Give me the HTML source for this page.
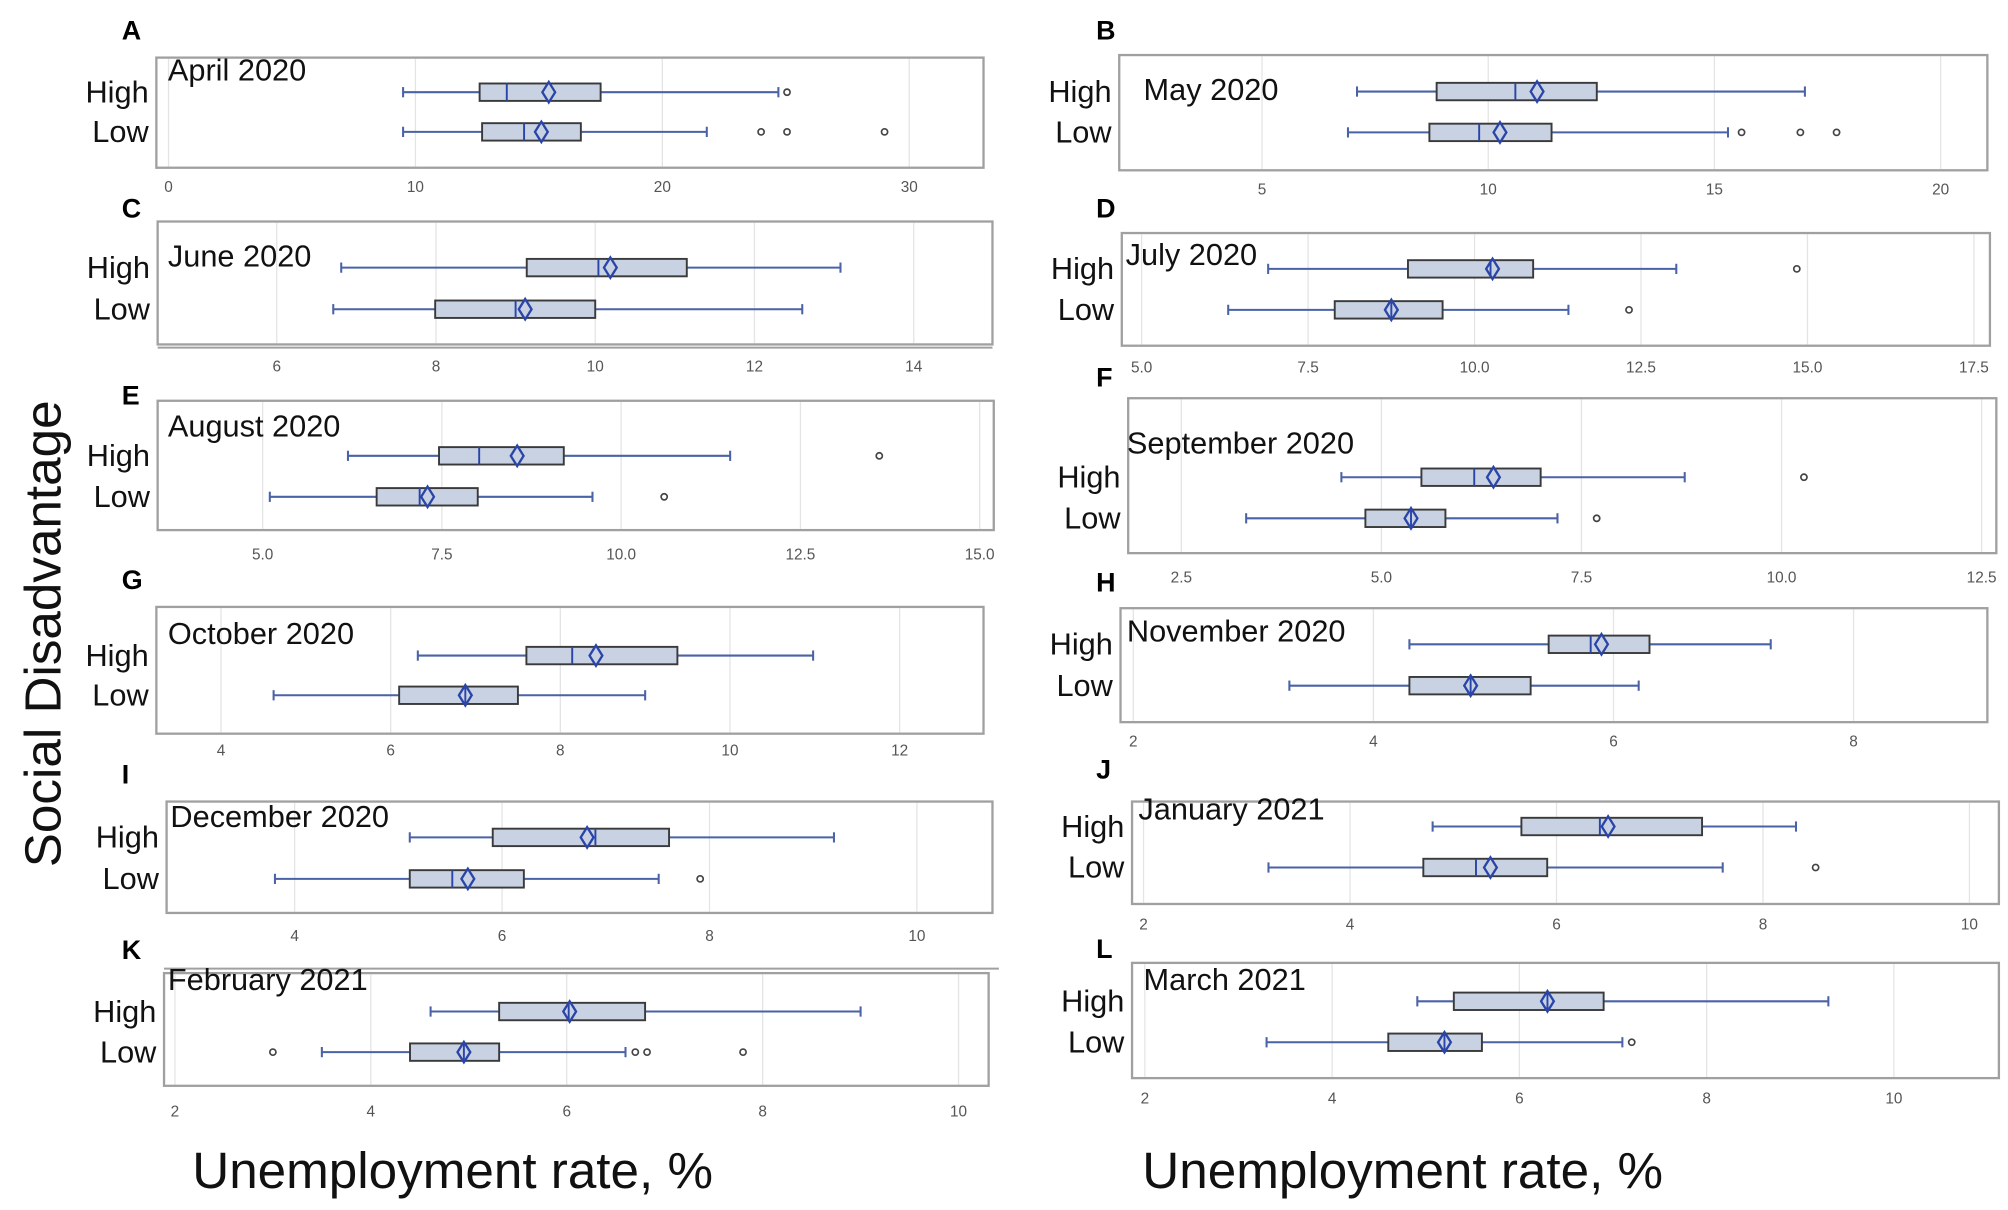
<!DOCTYPE html>
<html><head><meta charset="utf-8"><style>
html,body{margin:0;padding:0;background:#fff;}
svg{display:block;}
text{font-family:"Liberation Sans",sans-serif;}
</style></head><body>
<svg id="fig" width="2008" height="1210" viewBox="0 0 1568 945" xmlns="http://www.w3.org/2000/svg">
<text x="0" y="0" font-size="40" text-anchor="middle" transform="translate(47,495) rotate(-90)" fill="#111">Social Disadvantage</text>
<text x="150" y="928" font-size="40" fill="#111">Unemployment rate, %</text>
<text x="892" y="928" font-size="40" fill="#111">Unemployment rate, %</text>
<line x1="123" x2="775" y1="271.5" y2="271.5" stroke="#a0a0a0" stroke-width="1.5"/>
<line x1="128" x2="780" y1="756.5" y2="756.5" stroke="#a0a0a0" stroke-width="1.5"/>
</svg>
<script>
const letters=["A","B","C","D","E","F","G","H","I","J","K","L"];
const months=["April 2020","May 2020","June 2020","July 2020","August 2020","September 2020","October 2020","November 2020","December 2020","January 2021","February 2021","March 2021"];
const tickVals=[[0,10,20,30],[5,10,15,20],[6,8,10,12,14],[5,7.5,10,12.5,15,17.5],[5,7.5,10,12.5,15],[2.5,5,7.5,10,12.5],[4,6,8,10,12],[2,4,6,8],[4,6,8,10],[2,4,6,8,10],[2,4,6,8,10],[2,4,6,8,10]];
const tickDecimals=[0,0,0,1,1,1,0,0,0,0,0,0];
const highMin=[9.5,7.1,6.81,6.9,6.19,4.5,6.32,4.3,5.11,4.8,4.61,4.91];
const highQ1=[12.6,8.86,9.14,9.0,7.46,5.5,7.6,5.46,5.91,5.66,5.31,5.3];
const highMed=[13.7,10.6,10.04,10.24,8.02,6.16,8.14,5.81,6.9,6.42,6.02,6.3];
const highQ3=[17.5,12.4,11.15,10.88,9.2,6.99,9.38,6.3,7.61,7.41,6.8,6.9];
const highMax=[24.7,17.0,13.08,13.03,11.52,8.79,10.98,7.31,9.2,8.32,9.0,9.3];
const highMean=[15.4,11.08,10.19,10.27,8.55,6.4,8.42,5.9,6.82,6.5,6.03,6.3];
const highOut=[[25.05],[],[],[14.84],[13.6],[10.28],[],[],[],[],[],[]];
const lowMin=[9.5,6.9,6.71,6.3,5.1,3.31,4.62,3.3,3.81,3.21,3.5,3.3];
const lowQ1=[12.7,8.7,7.99,7.9,6.59,4.8,6.1,4.3,5.11,4.71,4.4,4.6];
const lowMed=[14.4,9.8,9.0,8.75,7.19,5.37,6.88,4.81,5.52,5.22,4.95,5.2];
const lowQ3=[16.7,11.4,10.0,9.52,8.0,5.8,7.5,5.31,6.21,5.91,5.31,5.6];
const lowMax=[21.8,15.3,12.6,11.41,9.6,7.2,9.0,6.21,7.51,7.61,6.6,7.1];
const lowMean=[15.1,10.26,9.12,8.75,7.3,5.37,6.88,4.81,5.67,5.36,4.95,5.2];
const lowOut=[[24.0,25.05,29.0],[15.6,16.9,17.7],[],[12.32],[10.6],[7.69],[],[],[7.91],[8.51],[3.0,6.7,6.82,7.8],[7.2]];

const layout=[
 {x0:122,x1:768,y0:45,y1:131,v0:0,p0:131.5,v1:30,p1:710,yH:72,yL:103,ty:150,lx:95,ly:31,tx:131,tyT:63},
 {x0:874,x1:1552,y0:43,y1:133,v0:5,p0:985.5,v1:20,p1:1515.5,yH:71.5,yL:103.4,ty:152,lx:856,ly:31,tx:893,tyT:78},
 {x0:123,x1:775,y0:173,y1:269,v0:6,p0:216,v1:14,p1:713.5,yH:209,yL:241.5,ty:290,lx:95,ly:170,tx:131,tyT:208},
 {x0:876,x1:1554,y0:182,y1:270,v0:5,p0:891.5,v1:17.5,p1:1541.5,yH:210,yL:242,ty:291,lx:856,ly:170,tx:879,tyT:207},
 {x0:123,x1:776,y0:313,y1:414,v0:5,p0:205,v1:15,p1:765,yH:356,yL:388,ty:437,lx:95,ly:316,tx:131,tyT:341},
 {x0:881,x1:1559,y0:311,y1:432,v0:2.5,p0:922.5,v1:12.5,p1:1547.5,yH:372.7,yL:404.8,ty:455,lx:856,ly:302,tx:880,tyT:354},
 {x0:122,x1:768,y0:474,y1:573,v0:4,p0:172.5,v1:12,p1:702.5,yH:512,yL:543,ty:590,lx:95,ly:460,tx:131,tyT:503},
 {x0:875,x1:1552,y0:475,y1:564,v0:2,p0:885,v1:8,p1:1447.5,yH:503.2,yL:535.5,ty:583,lx:856,ly:462,tx:880,tyT:501},
 {x0:130,x1:775,y0:626,y1:713,v0:4,p0:230,v1:10,p1:716,yH:654,yL:686.4,ty:735,lx:95,ly:612,tx:133,tyT:646},
 {x0:884,x1:1561,y0:626,y1:706,v0:2,p0:893,v1:10,p1:1538,yH:645.5,yL:677.5,ty:726,lx:856,ly:608,tx:889,tyT:640},
 {x0:128,x1:772,y0:760,y1:848,v0:2,p0:136.5,v1:10,p1:748.5,yH:790,yL:821.7,ty:872,lx:95,ly:749,tx:131,tyT:773},
 {x0:884,x1:1561,y0:752,y1:842,v0:2,p0:894,v1:10,p1:1479,yH:782,yL:814,ty:862,lx:856,ly:748,tx:893,tyT:773}
];
const NS="http://www.w3.org/2000/svg";
const svg=document.getElementById('fig');
function mk(tag,attrs,parent){const e=document.createElementNS(NS,tag);for(const k in attrs)e.setAttribute(k,attrs[k]);(parent||svg).appendChild(e);return e;}
const BH=6.8, BLUE="#4a62a6", MEAN="#2a45a8";
function drawBox(g,sx,y,mn,q1,md,q3,mx,mean,outs,nm){
  const wl=mk('line',{x1:sx(mn),x2:sx(q1),y1:y,y2:y,stroke:BLUE,'stroke-width':1.6},g);
  
  
  const wh=mk('line',{x1:sx(q3),x2:sx(mx),y1:y,y2:y,stroke:BLUE,'stroke-width':1.6},g);
  
  
  [mn,mx].forEach(v=>{const c=mk('line',{x1:sx(v),x2:sx(v),y1:y-4,y2:y+4,stroke:BLUE,'stroke-width':1.6},g);
    
    });
  const r=mk('rect',{x:sx(q1),y:y-BH,width:sx(q3)-sx(q1),height:2*BH,fill:"#c8d2e3",stroke:"#3a3a3a",'stroke-width':1.5},g);
  
  
  const m=mk('line',{x1:sx(md),x2:sx(md),y1:y-BH,y2:y+BH,stroke:MEAN,'stroke-width':1.5},g);
  
  
  const mx_=sx(mean);
  const d=mk('polygon',{points:`${mx_-5},${y} ${mx_},${y-8} ${mx_+5},${y} ${mx_},${y+8}`,fill:"none",stroke:MEAN,'stroke-width':1.8},g);
  
  
  outs.forEach(v=>{const o=mk('circle',{cx:sx(v),cy:y,r:2.4,fill:"#fff",stroke:"#444",'stroke-width':1.3},g);
    
    });
}
layout.forEach((L,i)=>{
  const g=mk('g',{});
  
  
  const sx=v=>L.p0+(v-L.v0)*(L.p1-L.p0)/(L.v1-L.v0);
  tickVals[i].forEach(v=>{
    const gl=mk('line',{x1:sx(v),x2:sx(v),y1:L.y0+1,y2:L.y1-1,stroke:"#e4e4e4",'stroke-width':1},g);
    
    
    const t=mk('text',{x:sx(v),y:L.ty,'font-size':12,'text-anchor':'middle',fill:'#555'},g);
    t.textContent=v.toFixed(tickDecimals[i]);
    
    
  });
  const f=mk('rect',{x:L.x0,y:L.y0,width:L.x1-L.x0,height:L.y1-L.y0,fill:'none',stroke:'#a0a0a0','stroke-width':1.8},g);
  
  
  const lt=mk('text',{x:L.lx,y:L.ly,'font-size':21,'font-weight':'bold',fill:'#000'},g);
  lt.textContent=letters[i];
  
  
  const tt=mk('text',{x:L.tx,y:L.tyT,'font-size':24,fill:'#111'},g);
  tt.textContent=months[i];
  
  
  [['High',L.yH],['Low',L.yL]].forEach(([s,y])=>{
    const t=mk('text',{x:L.x0-6,y:y+8,'font-size':24,'text-anchor':'end',fill:'#111'},g);
    t.textContent=s;
    
    
  });
  drawBox(g,sx,L.yH,highMin[i],highQ1[i],highMed[i],highQ3[i],highMax[i],highMean[i],highOut[i],'high');
  drawBox(g,sx,L.yL,lowMin[i],lowQ1[i],lowMed[i],lowQ3[i],lowMax[i],lowMean[i],lowOut[i],'low');
});
</script>
</body></html>
